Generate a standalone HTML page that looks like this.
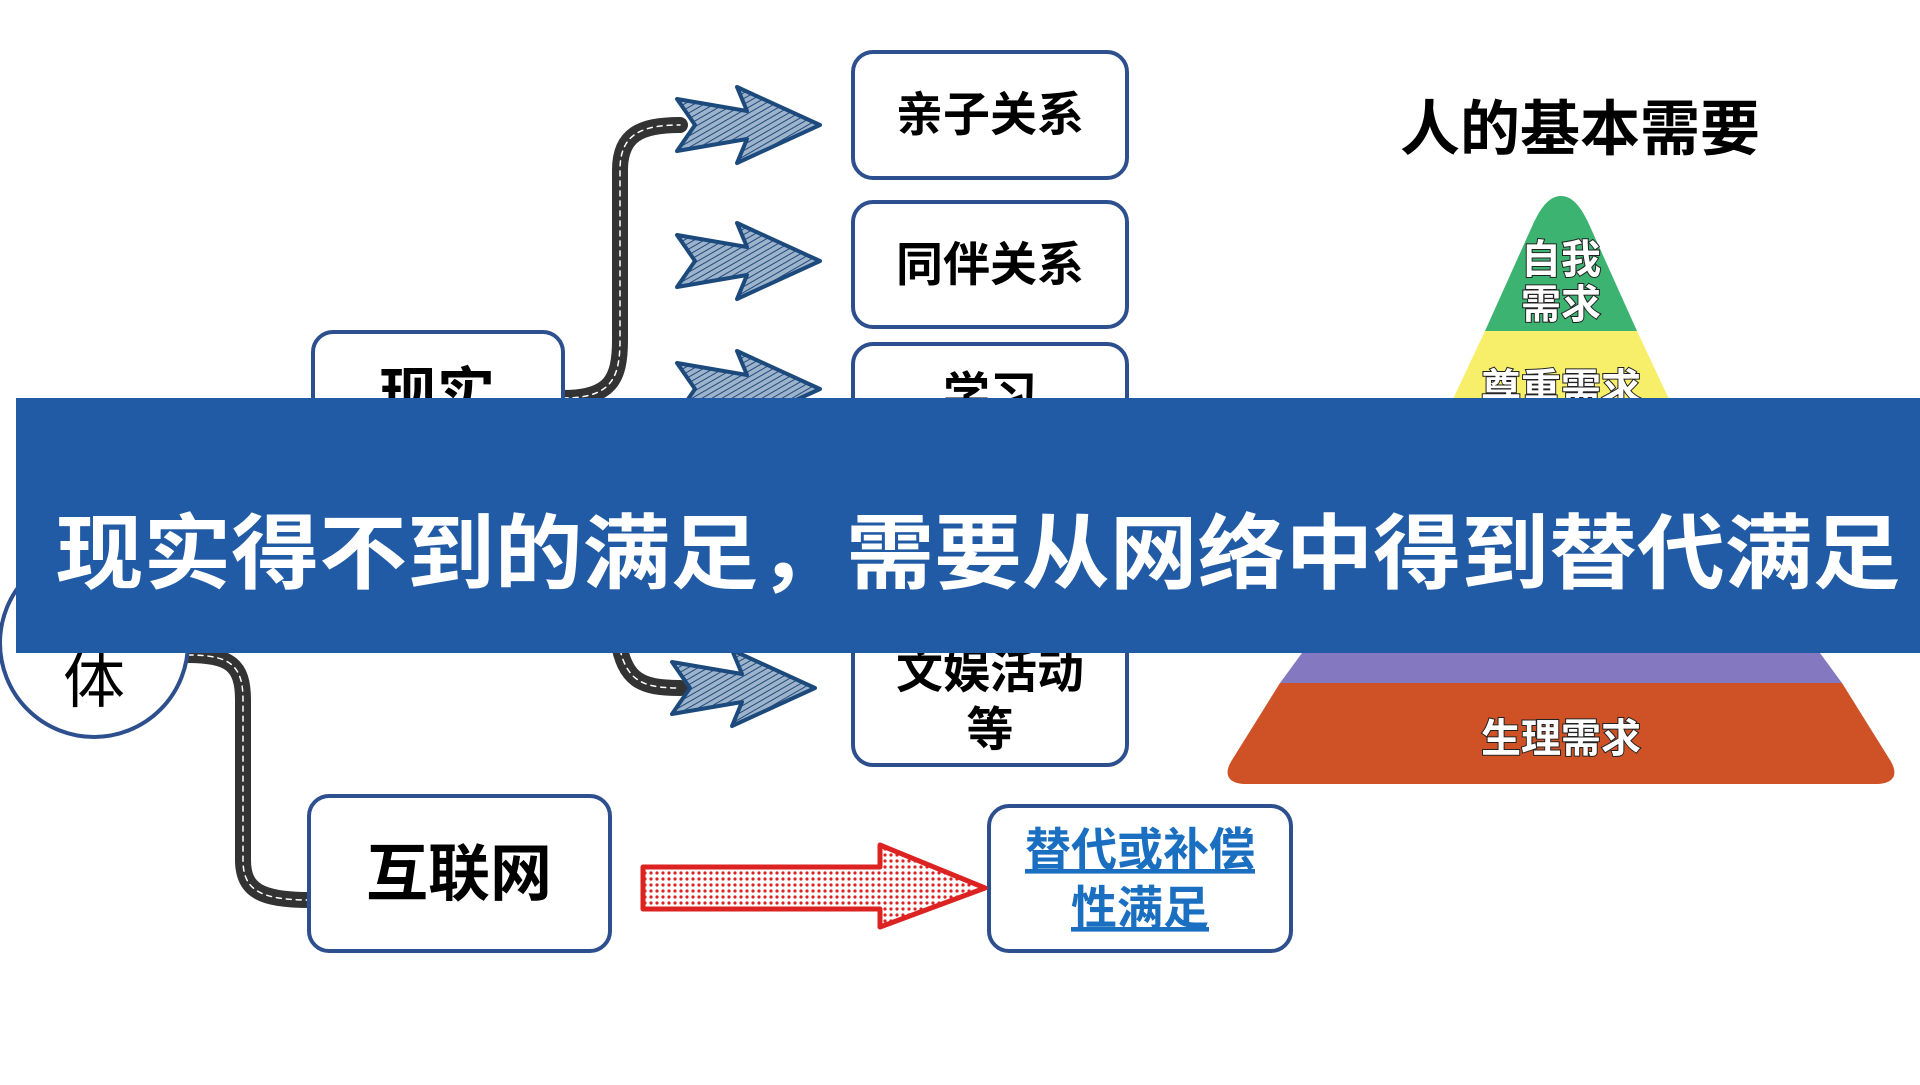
<!DOCTYPE html>
<html><head><meta charset="utf-8"><style>
body{margin:0;width:1920px;height:1080px;background:#fff;overflow:hidden;font-family:"Liberation Sans","Noto Sans CJK SC",sans-serif}
</style></head><body>
<svg width="1920" height="1080" viewBox="0 0 1920 1080" xmlns="http://www.w3.org/2000/svg" font-family="'Liberation Sans','Noto Sans CJK SC',sans-serif">
<defs>
<pattern id="hatch" width="5" height="5" patternUnits="userSpaceOnUse" patternTransform="rotate(60)"><rect width="5" height="5" fill="#9db3cc"/><line x1="0" y1="0" x2="0" y2="5" stroke="#1f4a7a" stroke-width="2"/></pattern>
<pattern id="rh" width="6" height="6" patternUnits="userSpaceOnUse"><rect width="6" height="6" fill="#fff"/><circle cx="3" cy="3" r="1.6" fill="#d22"/></pattern>
<g id="barrow"><path d="M0,-26 L70,-14 L60,-38 L143,0 L60,38 L70,14 L0,26 L18,0 Z" fill="url(#hatch)" stroke="#1d4a7c" stroke-width="4" stroke-linejoin="round"/></g>
</defs>
<g fill="none" stroke-linecap="round">
<path d="M563,398 C610,398 620,380 620,340 L620,170 C620,135 640,125 680,125" stroke="#333" stroke-width="16"/>
<path d="M563,398 C610,398 620,380 620,340 L620,170 C620,135 640,125 680,125" stroke="#fff" stroke-width="1.5" stroke-dasharray="5 5"/>
<path d="M618,640 C625,680 640,688 680,688" stroke="#333" stroke-width="16"/>
<path d="M618,640 C625,680 640,688 680,688" stroke="#fff" stroke-width="1.5" stroke-dasharray="5 5"/>
<path d="M188,655 C230,655 243,665 243,700 L243,860 C243,890 260,900 310,900" stroke="#333" stroke-width="16"/>
<path d="M188,655 C230,655 243,665 243,700 L243,860 C243,890 260,900 310,900" stroke="#fff" stroke-width="1.5" stroke-dasharray="5 5"/>
</g>
<use href="#barrow" x="677" y="125"/>
<use href="#barrow" x="677" y="261"/>
<use href="#barrow" x="677" y="389"/>
<use href="#barrow" x="672" y="688"/>
<g fill="#fff" stroke="#2d4f8e" stroke-width="4">
<rect x="853" y="52" width="274" height="126" rx="20"/>
<rect x="853" y="202" width="274" height="125" rx="20"/>
<rect x="853" y="344" width="274" height="120" rx="20"/>
<rect x="853" y="600" width="274" height="165" rx="20"/>
<rect x="313" y="332" width="250" height="120" rx="20"/>
<rect x="309" y="796" width="301" height="155" rx="20"/>
<rect x="989" y="806" width="302" height="145" rx="20"/>
<circle cx="94" cy="643" r="94"/>
</g>
<g font-weight="bold" font-size="47" text-anchor="middle" fill="#000">
<text x="990" y="131">亲子关系</text>
<text x="990" y="281">同伴关系</text>
<text x="990" y="411">学习</text>
<text x="990" y="688">文娱活动</text>
<text x="990" y="746">等</text>
<text x="437" y="415" font-size="58">现实</text>
<text x="459" y="895" font-size="62">互联网</text>
</g>
<text x="94" y="702" font-size="62" text-anchor="middle">体</text>
<g font-weight="bold" font-size="46" text-anchor="middle" fill="#1a6fc0" text-decoration="underline">
<text x="1140" y="866">替代或补偿</text>
<text x="1140" y="924">性满足</text>
</g>
<path d="M643,867 L880,867 L880,845 L985,888 L880,927 L880,909 L643,909 Z" fill="url(#rh)" stroke="#d22" stroke-width="5" stroke-linejoin="round"/>
<text x="1580" y="150" font-size="60" font-weight="bold" text-anchor="middle">人的基本需要</text>
<g>
<path d="M1561,196 C1548,196 1540,210 1534,222 L1485,331 L1637,331 L1588,222 C1582,210 1574,196 1561,196 Z" fill="#3cb371"/>
<path d="M1485,331 L1637,331 L1693,450 L1429,450 Z" fill="#f7ef6a"/>
<path d="M1302,653 L1820,653 L1842,683 L1280,683 Z" fill="#8479c0"/>
<path d="M1280,683 L1842,683 L1890,760 C1900,776 1892,784 1876,784 L1246,784 C1230,784 1222,776 1232,760 Z" fill="#cf5226"/>
</g>
<g font-weight="bold" font-size="40" text-anchor="middle" fill="#fff" stroke="#222" stroke-width="2" paint-order="stroke">
<text x="1561" y="273">自我</text>
<text x="1561" y="318">需求</text>
<text x="1561" y="402">尊重需求</text>
<text x="1561" y="752">生理需求</text>
</g>
<rect x="16" y="398" width="1904" height="255" fill="#215ba5"/>
<text x="978" y="582" font-size="82" font-weight="bold" fill="#fff" text-anchor="middle" textLength="1845" lengthAdjust="spacingAndGlyphs">现实得不到的满足，需要从网络中得到替代满足</text>
</svg>
</body></html>
